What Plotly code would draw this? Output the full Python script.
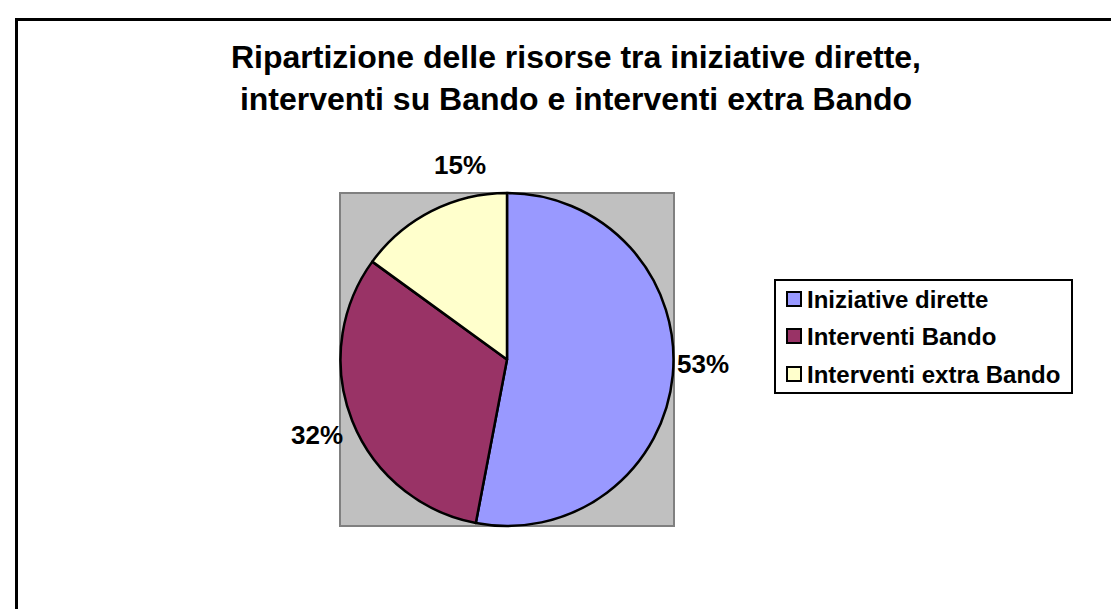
import plotly.graph_objects as go

# ---- data ----
categories = ["Iniziative dirette", "Interventi Bando", "Interventi extra Bando"]
values = [53, 32, 15]
pct_labels = ["53%", "32%", "15%"]
colors = ["#9999FF", "#993366", "#FFFFCC"]
title_lines = ["Ripartizione delle risorse tra iniziative dirette,",
               "interventi su Bando e interventi extra Bando"]

W, H = 1119, 609
FONT = "Liberation Sans, Arial, sans-serif"


def px(x):
    return x / W


def py(y):
    return 1 - y / H


# plot area square (pixels)
PA = (332, 185, 666, 518)

fig = go.Figure()
fig.add_trace(go.Pie(
    labels=categories,
    values=values,
    marker=dict(colors=colors, line=dict(color="black", width=2.5)),
    sort=False,
    direction="clockwise",
    rotation=0,
    textinfo="none",
    hoverinfo="label+percent",
    showlegend=False,
    domain=dict(x=[px(PA[0]), px(PA[2])], y=[py(PA[3]), py(PA[1])]),
))

shapes = [
    # outer chart border
    dict(type="rect", xref="paper", yref="paper",
         x0=px(8.5), x1=px(W + 20), y0=py(H + 20), y1=py(11.5),
         line=dict(color="black", width=3), fillcolor="rgba(0,0,0,0)", layer="below"),
    # gray plot area
    dict(type="rect", xref="paper", yref="paper",
         x0=px(PA[0]), x1=px(PA[2]), y0=py(PA[3]), y1=py(PA[1]),
         line=dict(color="#808080", width=2), fillcolor="#C0C0C0", layer="below"),
    # legend box
    dict(type="rect", xref="paper", yref="paper",
         x0=px(767), x1=px(1064), y0=py(385), y1=py(272),
         line=dict(color="black", width=2), fillcolor="white", layer="above"),
]

annotations = [
    dict(text="<br>".join(title_lines), xref="paper", yref="paper",
         x=px(568), y=py(70), xanchor="center", yanchor="middle",
         showarrow=False, align="center",
         font=dict(family=FONT, size=32, color="black", weight="bold")),
]

# legend entries
row_y = [291, 328, 366]
for cat, col, ry in zip(categories, colors, row_y):
    shapes.append(dict(type="rect", xref="paper", yref="paper",
                       x0=px(779), x1=px(793), y0=py(ry + 7), y1=py(ry - 7),
                       line=dict(color="black", width=2), fillcolor=col, layer="above"))
    annotations.append(dict(text=cat, xref="paper", yref="paper",
                            x=px(797), y=py(ry), xanchor="left", yanchor="middle",
                            showarrow=False,
                            font=dict(family=FONT, size=24, color="black", weight="bold")))

# percentage labels
label_pos = [(695, 356), (309, 427), (452, 157)]
for t, (lx, ly) in zip(pct_labels, label_pos):
    annotations.append(dict(text=t, xref="paper", yref="paper",
                            x=px(lx), y=py(ly), xanchor="center", yanchor="middle",
                            showarrow=False,
                            font=dict(family=FONT, size=26, color="black", weight="bold")))

fig.update_layout(
    width=W, height=H,
    margin=dict(l=0, r=0, t=0, b=0),
    paper_bgcolor="white",
    plot_bgcolor="white",
    shapes=shapes,
    annotations=annotations,
    showlegend=False,
)

fig.write_html("out.html")
